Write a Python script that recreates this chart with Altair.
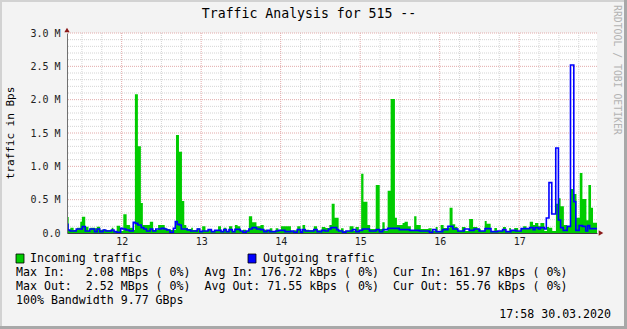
import altair as alt
import pandas as pd

MONO = "DejaVu Sans Mono"
X0, X1 = 7.5, 167.5  # hours since day 11, 00:00

# Incoming traffic (MBps) : step start hour -> value
in_start = [7.5, 8.0, 8.5, 9.5, 10.5, 11.5, 12.0, 13.0, 14.0, 14.5, 16.0, 16.5, 17.5, 18.5, 19.0,
            21.0, 21.5, 22.5, 23.5, 24.5, 25.5, 26.5, 27.5, 28.0, 28.9, 29.8, 30.4, 32.5, 33.5,
            35.0, 37.0, 37.5, 38.5, 40.4, 41.3, 42.2, 42.9, 43.5, 44.0, 45.0, 45.5, 46.8, 47.6,
            48.3, 49.3, 50.1, 51.1, 53.1, 54.0, 54.8, 55.6, 56.4, 57.4, 58.2, 59.0, 59.8, 60.6,
            61.6, 62.4, 63.4, 64.7, 65.9, 66.9, 67.9, 68.7, 69.5, 70.5, 71.3, 72.1, 75.1, 75.9,
            77.0, 78.0, 78.6, 79.4, 80.6, 82.0, 83.0, 84.4, 85.5, 86.7, 87.4, 88.3, 89.5, 90.2,
            91.0, 92.8, 94.0, 94.6, 95.6, 96.3, 97.0, 98.2, 99.0, 100.7, 101.9, 102.7, 103.4,
            104.3, 105.2, 106.5, 107.1, 108.8, 109.4, 110.4, 111.3, 112.3, 113.0, 114.3, 116.6,
            117.6, 118.8, 119.4, 120.3, 121.2, 123.0, 123.9, 124.7, 125.4, 126.7, 127.8, 128.9,
            130.1, 131.4, 132.4, 133.6, 134.2, 135.4, 136.5, 137.3, 139.1, 140.0, 141.0, 141.5,
            142.5, 143.7, 144.5, 145.2, 146.2, 147.2, 148.2, 148.8, 149.8, 150.4, 151.6, 152.4,
            153.0, 154.0, 155.1, 155.9, 156.5, 157.5, 158.5, 159.5, 160.3, 161.3, 162.3, 163.1,
            164.3, 164.9, 165.7, 166.3]
in_val = [0.24, 0.045, 0.08, 0.045, 0.08, 0.17, 0.245, 0.095, 0.03, 0.08, 0.07, 0.095, 0.045, 0.06, 0.045,
          0.08, 0.03, 0.11, 0.03, 0.28, 0.12, 0.08, 0.045, 2.08, 1.3, 0.45, 0.12, 0.17, 0.045,
          0.12, 0.08, 0.06, 0.045, 1.47, 1.22, 0.48, 0.12, 0.08, 0.06, 0.08, 0.045, 0.07, 0.03,
          0.1, 0.03, 0.06, 0.03, 0.1, 0.03, 0.08, 0.03, 0.1, 0.03, 0.12, 0.1, 0.03, 0.05,
          0.03, 0.25, 0.16, 0.1, 0.12, 0.05, 0.03, 0.07, 0.03, 0.07, 0.03, 0.1, 0.03, 0.04,
          0.1, 0.03, 0.12, 0.05, 0.04, 0.1, 0.04, 0.09, 0.075, 0.12, 0.44, 0.23, 0.04, 0.07,
          0.03, 0.1, 0.03, 0.09, 0.03, 0.89, 0.47, 0.12, 0.06, 0.72, 0.06, 0.16, 0.03,
          0.635, 2.01, 0.23, 0.12, 0.15, 0.17, 0.1, 0.03, 0.25, 0.12, 0.06, 0.07,
          0.03, 0.09, 0.03, 0.12, 0.075, 0.38, 0.13, 0.09, 0.03, 0.09, 0.03, 0.21,
          0.09, 0.065, 0.03, 0.18, 0.14, 0.03, 0.075, 0.03, 0.09, 0.03, 0.075, 0.03,
          0.075, 0.03, 0.065, 0.1, 0.065, 0.17, 0.12, 0.15, 0.1, 0.15, 0.03, 0.09,
          0.08, 0.03, 0.44, 0.52, 0.40, 0.12, 0.1, 0.66, 0.585, 0.23, 0.9, 0.51,
          0.19, 0.72, 0.38, 0.155]

# Outgoing traffic (MBps)
out_start = [7.5, 7.8, 8.4, 10.3, 12.1, 13.0, 14.4, 15.8, 16.6, 17.4, 18.4, 19.2, 20.9, 21.7, 22.5,
             23.7, 24.3, 25.3, 26.3, 27.5, 28.1, 28.9, 29.9, 30.7, 31.5, 32.6, 33.4, 34.3, 36.0,
             36.8, 37.6, 38.6, 39.6, 40.2, 40.8, 41.4, 42.0, 43.8, 44.8, 46.8, 47.6, 48.3, 50.1,
             51.1, 52.1, 54.0, 54.8, 55.6, 56.4, 57.4, 58.2, 59.8, 60.6, 61.6, 62.4, 63.4, 64.7,
             65.9, 66.9, 67.9, 68.7, 70.5, 71.3, 73.3, 75.1, 75.9, 77.0, 78.0, 78.6, 79.4, 82.0,
             83.0, 84.4, 85.4, 86.4, 87.2, 88.9, 89.5, 90.7, 91.7, 93.7, 94.7, 95.7, 96.7, 98.8,
             100.8, 101.8, 102.8, 104.3, 107.8, 110.9, 113.9, 116.9, 117.9, 118.9, 120.9, 122.5,
             124.0, 125.5, 127.4, 128.9, 130.4, 131.9, 133.7, 135.5, 137.5, 139.0, 140.0, 141.5,
             143.0, 144.6, 147.2, 148.2, 148.8, 149.8, 150.4, 151.6, 152.2, 153.0, 153.85, 155.05,
             155.85, 156.5, 157.3, 158.5, 159.5, 160.5, 161.1, 162.1, 163.1, 164.1, 164.7, 165.3]
out_val = [0.13, 0.045, 0.03, 0.06, 0.095, 0.03, 0.06, 0.02, 0.06, 0.02, 0.045, 0.03, 0.045, 0.02, 0.01,
           0.07, 0.06, 0.045, 0.03, 0.16, 0.145, 0.12, 0.08, 0.06, 0.03, 0.06, 0.03, 0.06, 0.07,
           0.06, 0.045, 0.01, 0.07, 0.17, 0.13, 0.12, 0.06, 0.045, 0.03, 0.06, 0.02, 0.03, 0.05,
           0.02, 0.04, 0.02, 0.05, 0.02, 0.05, 0.02, 0.055, 0.03, 0.01, 0.03, 0.06, 0.08, 0.06,
           0.05, 0.02, 0.04, 0.02, 0.03, 0.04, 0.02, 0.03, 0.01, 0.05, 0.01, 0.05, 0.03, 0.05,
           0.02, 0.04, 0.03, 0.06, 0.08, 0.05, 0.03, 0.01, 0.03, 0.05, 0.02, 0.04, 0.06, 0.03,
           0.05, 0.02, 0.05, 0.07, 0.05, 0.04, 0.03, 0.01, 0.05, 0.02, 0.05, 0.1,
           0.06, 0.03, 0.06, 0.04, 0.06, 0.03, 0.065, 0.02, 0.03, 0.05, 0.02, 0.04,
           0.03, 0.065, 0.08, 0.05, 0.08, 0.06, 0.08, 0.06, 0.225, 0.755, 0.285, 1.275,
           0.195, 0.08, 0.04, 0.1, 2.52, 0.47, 0.04, 0.11, 0.1, 0.03, 0.11, 0.065]

day_ticks = [24, 48, 72, 96, 120, 144]
minor_x = [12, 18, 30, 36, 42, 54, 60, 66, 78, 84, 90, 102, 108, 114, 126, 132, 138, 150, 156, 162]
major_y = [0.5, 1.0, 1.5, 2.0, 2.5, 3.0]
minor_y = [0.1, 0.2, 0.3, 0.4, 0.6, 0.7, 0.8, 0.9, 1.1, 1.2, 1.3, 1.4, 1.6, 1.7, 1.8, 1.9,
           2.1, 2.2, 2.3, 2.4, 2.6, 2.7, 2.8, 2.9]
y_ticks = [0.0, 0.5, 1.0, 1.5, 2.0, 2.5, 3.0]

title_text = "Traffic Analysis for 515 --"
legend_in = "Incoming traffic"
legend_out = "Outgoing traffic"
line1 = "Max In:   2.08 MBps ( 0%)  Avg In: 176.72 kBps ( 0%)  Cur In: 161.97 kBps ( 0%)"
line2 = "Max Out:  2.52 MBps ( 0%)  Avg Out: 71.55 kBps ( 0%)  Cur Out: 55.76 kBps ( 0%)"
line3 = "100% Bandwidth 9.77 GBps"
stamp = "17:58 30.03.2020"
watermark = "RRDTOOL / TOBI OETIKER"

IN_COLOR = "#00CC00"
OUT_COLOR = "#0000FF"

PL, PT = 67, 33  # plot origin inside the canvas


def steps(starts, vals):
    return pd.DataFrame({"h": starts + [X1], "v": vals + [vals[-1]]})


xs = alt.Scale(domain=[X0, X1], nice=False, zero=False)
ys = alt.Scale(domain=[0, 3.0], nice=False)

x_axis = alt.Axis(values=day_ticks, labelExpr="'' + (datum.value / 24 + 11)", title=None,
                  grid=False, ticks=False, domainColor="#404040", labelFont=MONO,
                  labelFontSize=10, labelColor="#222222", labelPadding=3, zindex=2,
                  labelFlush=False, labelOverlap=False)
y_axis = alt.Axis(values=y_ticks,
                  labelExpr="datum.value == 0 ? '0.0' : format(datum.value, '.1f') + ' M'",
                  title=None, grid=False, ticks=False, domainColor="#707070", labelFont=MONO,
                  labelFontSize=10, labelColor="#222222", labelPadding=7, zindex=2,
                  labelOverlap=False, labelFlush=False)


def vgrid(vals, color):
    return alt.Chart(pd.DataFrame({"h": vals})).mark_rule(
        color=color, strokeWidth=1, strokeDash=[1, 1]).encode(
        x=alt.X("h:Q", scale=xs, axis=x_axis))


def hgrid(vals, color):
    return alt.Chart(pd.DataFrame({"v": vals})).mark_rule(
        color=color, strokeWidth=1, strokeDash=[1, 1]).encode(
        y=alt.Y("v:Q", scale=ys, axis=y_axis))


def nb(s):
    return s.replace(" ", "\u00a0")


def label(text, x, y, size=11.6, align="left", angle=0, color="#000000", font=MONO):
    return alt.Chart(pd.DataFrame({"t": [nb(text)]})).mark_text(
        align=align, baseline="middle", fontSize=size, font=font, color=color, angle=angle
    ).encode(x=alt.value(x - PL), y=alt.value(y - PT), text="t:N")


def box(x1, y1, x2, y2, color):
    return alt.Chart(pd.DataFrame({"a": [0]})).mark_rect(
        color=color, stroke="#000000", strokeWidth=0.8).encode(
        x=alt.value(x1 - PL), x2=alt.value(x2 - PL), y=alt.value(y1 - PT), y2=alt.value(y2 - PT))


def band(x1, y1, x2, y2, color, w):
    return alt.Chart(pd.DataFrame({"a": [0]})).mark_rule(color=color, strokeWidth=w).encode(
        x=alt.value(x1 - PL), x2=alt.value(x2 - PL), y=alt.value(y1 - PT), y2=alt.value(y2 - PT))


area_in = alt.Chart(steps(in_start, in_val)).mark_area(
    interpolate="step-after", color=IN_COLOR, opacity=1).encode(
    x=alt.X("h:Q", scale=xs, axis=x_axis), y=alt.Y("v:Q", scale=ys, axis=y_axis))

line_out = alt.Chart(steps(out_start, out_val)).mark_line(
    interpolate="step-after", color=OUT_COLOR, strokeWidth=1.6).encode(
    x=alt.X("h:Q", scale=xs, axis=x_axis), y=alt.Y("v:Q", scale=ys, axis=y_axis))

arrow_up = alt.Chart(pd.DataFrame({"h": [X0], "v": [y_ticks[-1]]})).mark_point(
    shape="triangle-up", filled=True, color="#8B1A1A", size=28, opacity=1, yOffset=-3).encode(
    x=alt.X("h:Q", scale=xs, axis=x_axis), y=alt.Y("v:Q", scale=ys, axis=y_axis))
arrow_right = alt.Chart(pd.DataFrame({"h": [X1], "v": [y_ticks[0]]})).mark_point(
    shape="triangle-right", filled=True, color="#8B1A1A", size=28, opacity=1, xOffset=4).encode(
    x=alt.X("h:Q", scale=xs, axis=x_axis), y=alt.Y("v:Q", scale=ys, axis=y_axis))

layers = [
    vgrid(minor_x, "#D4D4D4"),
    hgrid(minor_y, "#D4D4D4"),
    vgrid(day_ticks, "#E2AAAA"),
    hgrid(major_y, "#E2AAAA"),
    area_in,
    line_out,
    arrow_up,
    arrow_right,
    label(title_text, 309, 14, size=13.2, align="center"),
    label("traffic in Bps", 11, 133, size=11, align="center", angle=270),
    label(watermark, 617, 5, size=9.8, align="left", angle=90, color="#B4B4B4"),
    box(16, 254, 24, 263, IN_COLOR),
    box(248, 254, 256, 263, OUT_COLOR),
    label(legend_in, 30, 259),
    label(legend_out, 263, 259),
    label(line1, 16, 273),
    label(line2, 16, 287),
    label(line3, 16, 301),
    label(stamp, 611, 315, align="right"),
    band(0, 1, 627, 1, "#D2D2D2", 2),
    band(1, 0, 1, 329, "#D2D2D2", 2),
    band(0, 327.5, 627, 327.5, "#A8A8A8", 3),
    band(625.5, 0, 625.5, 329, "#A8A8A8", 3),
]

chart = alt.layer(*layers).properties(
    width=530, height=200,
    padding={"left": PL, "top": PT, "right": 30, "bottom": 96},
    autosize=alt.AutoSizeParams(type="none"),
    background="#F3F3F3",
).configure_view(fill="#FFFFFF", stroke=None)

chart.save("out.html", embed_options={"renderer": "svg", "actions": False})
